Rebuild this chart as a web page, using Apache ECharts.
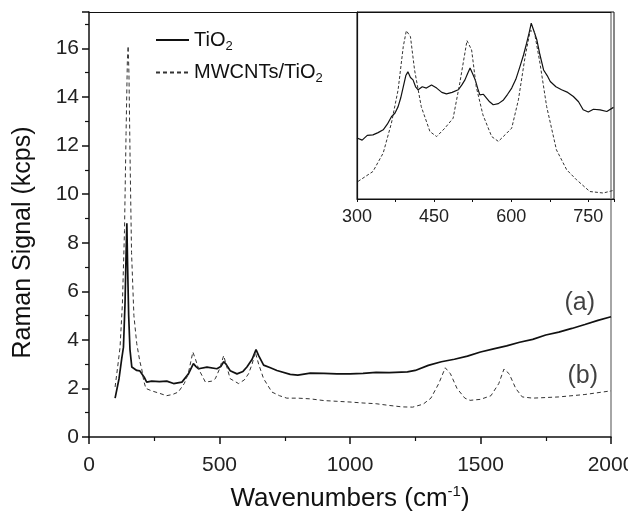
<!DOCTYPE html>
<html>
<head>
<meta charset="utf-8">
<script src="https://cdn.jsdelivr.net/npm/echarts@6/dist/echarts.min.js"></script>
<style>html,body{margin:0;padding:0;background:#fff}#c{width:628px;height:513px}</style>
</head>
<body>
<div id="c"></div>
<script>
// Main spectrum, TiO2 (a)
const tio2X = [100,115,125,132,138,142,145,148,152,157,164,183,195,202,212,221,240,270,298,324,356,381,400,410,420,452,490,505,516,525,541,567,590,605,625,640,650,669,695,720,771,800,848,900,950,1000,1050,1100,1150,1220,1250,1300,1350,1400,1450,1500,1550,1600,1650,1700,1750,1800,1850,1900,1950,2000];
const tio2Y = [1.6,2.4,3.2,3.7,5.5,7.5,8.8,7.0,5.0,3.6,2.88,2.74,2.72,2.68,2.45,2.26,2.3,2.28,2.3,2.2,2.26,2.6,3.02,2.9,2.81,2.88,2.81,2.9,3.1,3.0,2.73,2.6,2.7,2.88,3.2,3.6,3.35,2.96,2.85,2.74,2.58,2.55,2.63,2.62,2.6,2.6,2.62,2.66,2.65,2.68,2.74,2.95,3.1,3.2,3.33,3.5,3.63,3.75,3.9,4.02,4.2,4.32,4.47,4.63,4.8,4.95];
// Main spectrum, MWCNTs/TiO2 (b)
const cntX = [100,110,119,128,136,142,147,150,153,158,163,172,183,195,202,210,218,240,270,297,320,342,365,380,398,408,420,446,470,484,500,516,525,541,573,595,611,625,637,650,669,701,730,758,800,848,900,950,1000,1050,1100,1150,1200,1240,1280,1310,1340,1365,1385,1410,1440,1460,1500,1540,1570,1590,1610,1635,1660,1700,1800,1900,2000];
const cntY = [2.06,2.9,3.7,5.5,8.5,12.5,15.5,16.1,15.0,11.0,7.6,5.0,3.84,3.1,2.8,2.3,2.0,1.9,1.8,1.7,1.75,1.85,2.2,2.6,3.5,3.2,2.8,2.26,2.3,2.4,2.8,3.35,3.0,2.4,2.2,2.35,2.6,3.0,3.5,3.0,2.4,1.85,1.7,1.6,1.6,1.57,1.5,1.47,1.44,1.4,1.37,1.3,1.24,1.23,1.35,1.6,2.2,2.85,2.6,2.0,1.6,1.51,1.55,1.7,2.2,2.8,2.6,2.0,1.65,1.6,1.65,1.75,1.9];
// Inset (arbitrary units)
const insTiX = [300,310,320,331,341,351,359,367,374,380,385,390,395,399,404,409,414,419,427,435,445,455,465,474,485,497,504,510,515,520,525,530,535,539,546,552,558,565,575,585,593,601,609,617,624,630,635,639,644,650,656,663,670,676,687,698,710,721,731,740,750,760,773,786,799];
const insTiY = [32.6,31.5,34,34.3,35.5,37,40,44,46,49.4,54,60,66,68,65,63.7,60,58.4,60,59.3,61,59.3,57,56.2,57,58.4,61,63.7,67,70,67,63.7,59,55.7,56,54,52,50.4,51,53,56,59.3,64,70.8,77,83.3,89,94,90,85,77,69,66,62.8,60,58.4,57,54.8,52,47.7,46.5,48,47.7,46.8,49];
const insCntX = [302,331,351,367,380,390,396,404,412,425,442,455,471,487,500,514,523,532,545,562,575,588,601,614,627,637,645,656,669,688,708,727,753,779,799];
const insCntY = [9.4,14.7,24.6,40.6,58.4,81.5,90,86.8,69,49.4,36,33.4,37.9,43.2,62,84.7,79.7,60,45,33.4,30.8,34.3,37.9,53,76,90,89.5,72.6,49.4,26.3,15.6,10.3,4,3.2,4.6];
// Curve labels
const tagText = ['(a)','(b)'];
const tagX = [1880,1892];
const tagY = [5.5,2.52];
const seriesNames = ['TiO2','MWCNTs/TiO2'];

const zip = (a,b) => a.map((v,i)=>[v,b[i]]);
const font = 'Liberation Sans, Arial, Helvetica, sans-serif';
const tickFont = {fontFamily: font, fontSize: 21, color: '#222', formatter: v => String(v)};

const chart = echarts.init(document.getElementById('c'));
chart.setOption({
  animation: false,
  backgroundColor: '#fff',
  grid: [
    {left: 89, right: 17, top: 12, bottom: 76, containLabel: false, outerBoundsMode: 'none'},
    {left: 357, right: 14, top: 12, bottom: 314, containLabel: false, outerBoundsMode: 'none',
     show: true, borderColor: '#111', borderWidth: 1, backgroundColor: 'transparent'}
  ],
  legend: {
    data: seriesNames,
    orient: 'vertical',
    left: 150, top: 25,
    itemWidth: 33, itemHeight: 12, itemGap: 10,
    itemStyle: {color: 'transparent', borderWidth: 0, opacity: 0},
    textStyle: {fontFamily: font, fontSize: 20, color: '#111',
      rich: {s: {fontFamily: font, fontSize: 13, color: '#111', padding: [12,0,0,0]}}},
    formatter: n => n.replace(/2$/, '{s|2}')
  },
  xAxis: [
    {gridIndex: 0, type: 'value', min: 0, max: 2000, interval: 500,
     name: 'Wavenumbers (cm{sup|-1})', nameLocation: 'middle', nameGap: 47,
     nameTextStyle: {fontFamily: font, fontSize: 26, color: '#111',
       rich: {sup: {fontFamily: font, fontSize: 15, color: '#111', padding: [0,0,14,0]}}},
     axisLine: {show: true, lineStyle: {color: '#111', width: 1.5}},
     axisTick: {show: true, length: 7, lineStyle: {color: '#111', width: 1.5}},
     minorTick: {show: true, splitNumber: 2, length: 4, lineStyle: {color: '#111', width: 1.2}},
     axisLabel: Object.assign({margin: 18}, tickFont),
     splitLine: {show: false}},
    {gridIndex: 0, type: 'value', min: 0, max: 2000, position: 'top',
     axisLine: {show: true, onZero: false, lineStyle: {color: '#111', width: 1.2}},
     axisTick: {show: false}, axisLabel: {show: false}, splitLine: {show: false}},
    {gridIndex: 1, type: 'value', min: 300, max: 800, interval: 150,
     axisLine: {show: true, lineStyle: {color: '#111', width: 1.2}},
     axisTick: {show: true, length: 3, lineStyle: {color: '#111'}},
     minorTick: {show: true, splitNumber: 2, length: 3, lineStyle: {color: '#111'}},
     axisLabel: Object.assign({}, tickFont, {margin: 9, fontSize: 18, showMaxLabel: false}),
     splitLine: {show: false}}
  ],
  yAxis: [
    {gridIndex: 0, type: 'value', min: 0, max: 17.5, interval: 2,
     name: 'Raman Signal (kcps)', nameLocation: 'middle', nameGap: 53,
     nameTextStyle: {fontFamily: font, fontSize: 25, color: '#111', padding: [0, 36, 0, 0]},
     axisLine: {show: true, lineStyle: {color: '#111', width: 1.5}},
     axisTick: {show: true, length: 7, lineStyle: {color: '#111', width: 1.5}},
     minorTick: {show: true, splitNumber: 2, length: 4, lineStyle: {color: '#111', width: 1.2}},
     axisLabel: Object.assign({margin: 10, showMaxLabel: false}, tickFont),
     splitLine: {show: false}},
    {gridIndex: 0, type: 'value', min: 0, max: 17.5, position: 'right',
     axisLine: {show: true, onZero: false, lineStyle: {color: '#888', width: 1.5}},
     axisTick: {show: false}, axisLabel: {show: false}, splitLine: {show: false}},
    {gridIndex: 1, type: 'value', min: 0, max: 100,
     axisLine: {show: true, lineStyle: {color: '#111', width: 1.2}},
     axisTick: {show: false}, axisLabel: {show: false}, splitLine: {show: false}}
  ],
  series: [
    {name: seriesNames[0], type: 'line', xAxisIndex: 0, yAxisIndex: 0, data: zip(tio2X, tio2Y),
     showSymbol: false, symbol: 'none', lineStyle: {color: '#111', width: 1.7}, itemStyle: {color: '#111'}},
    {name: seriesNames[1], type: 'line', xAxisIndex: 0, yAxisIndex: 0, data: zip(cntX, cntY),
     showSymbol: false, symbol: 'none', lineStyle: {color: '#333', width: 1, type: [4,3]}, itemStyle: {color: '#333'}},
    {name: seriesNames[0], type: 'line', xAxisIndex: 2, yAxisIndex: 2, data: zip(insTiX, insTiY),
     showSymbol: false, symbol: 'none', lineStyle: {color: '#111', width: 1.2}},
    {name: seriesNames[1], type: 'line', xAxisIndex: 2, yAxisIndex: 2, data: zip(insCntX, insCntY),
     showSymbol: false, symbol: 'none', lineStyle: {color: '#333', width: 1, type: [3,2]}},
    {type: 'scatter', xAxisIndex: 0, yAxisIndex: 0, symbolSize: 0, silent: true,
     data: tagX.map((x,i)=>({value: [x, tagY[i]], name: tagText[i]})),
     label: {show: true, position: 'inside', formatter: p => p.name, fontFamily: font, fontSize: 25, color: '#111'}}
  ]
});
</script>
</body>
</html>
